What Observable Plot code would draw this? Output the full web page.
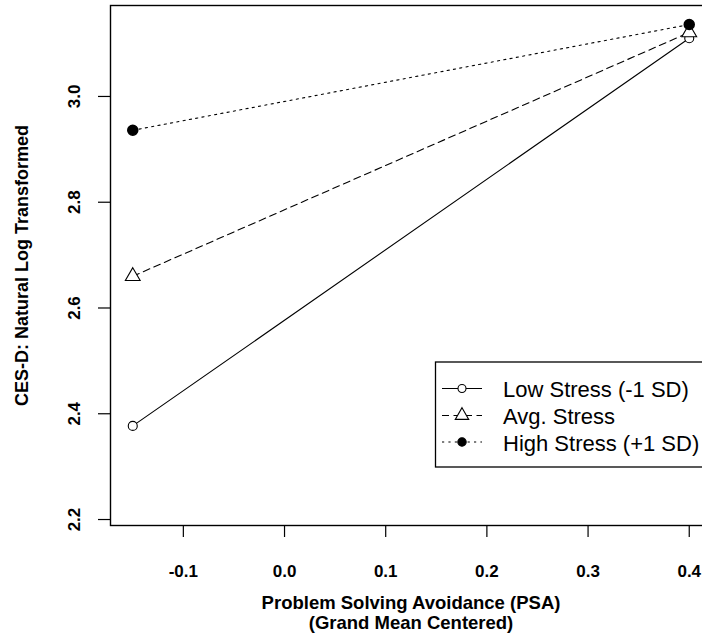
<!DOCTYPE html>
<html>
<head>
<meta charset="utf-8">
<script src="https://cdn.jsdelivr.net/npm/d3@7"></script>
<script src="https://cdn.jsdelivr.net/npm/@observablehq/plot@0.6"></script>
<style>
  html, body { margin: 0; padding: 0; background: white; overflow: hidden; width: 702px; height: 638px; }
  svg { max-width: none !important; }
</style>
</head>
<body>
<div id="chart"></div>
<script>
// ---- data ----
const psa = [-0.15, 0.4];
const lowStress = [2.377, 3.110];
const avgStress = [2.660, 3.121];
const highStress = [2.936, 3.136];
const seriesNames = ["Low Stress (-1 SD)", "Avg. Stress", "High Stress (+1 SD)"];
const xTicks = [-0.1, 0.0, 0.1, 0.2, 0.3, 0.4];
const yTicks = [2.2, 2.4, 2.6, 2.8, 3.0];
const xTitle = "Problem Solving Avoidance (PSA)\n(Grand Mean Centered)";
const yTitle = "CES-D: Natural Log Transformed";

const toRows = (vals, name) => psa.map((x, i) => ({ x, y: vals[i], series: name }));
const lowRows = toRows(lowStress, seriesNames[0]);
const avgRows = toRows(avgStress, seriesNames[1]);
const highRows = toRows(highStress, seriesNames[2]);

const font = "'Liberation Sans', Arial, Helvetica, sans-serif";
const fmt = d => d.toFixed(1);
const DASH = "7,4.5";
const DOT = "2.2,4.2";

const chart = Plot.plot({
  width: 712,
  height: 638,
  marginLeft: 110,
  marginRight: 1,
  marginTop: 5,
  marginBottom: 113,
  x: { domain: [-0.172, 0.422] },
  y: { domain: [2.1887, 3.172] },
  style: { fontFamily: font, background: "white", maxWidth: "none", color: "black" },
  marks: [
    Plot.axisX({ ticks: xTicks, tickSize: 12, tickPadding: 27, tickFormat: fmt,
                 fontSize: 17, fontWeight: "bold", label: null, strokeWidth: 1.2 }),
    Plot.axisY({ ticks: yTicks, tickSize: 12, tickFormat: () => "", label: null, strokeWidth: 1.2 }),
    Plot.text(yTicks, { y: d => d, text: fmt, frameAnchor: "left", textAnchor: "middle", dx: -35.5, rotate: -90,
                        fontSize: 17, fontWeight: "bold" }),
    Plot.text([yTitle], { frameAnchor: "left", textAnchor: "middle", dx: -88.5, rotate: -90,
                          fontSize: 18, fontWeight: "bold" }),
    Plot.text([xTitle], { frameAnchor: "bottom", textAnchor: "middle", dy: 70, lineAnchor: "top", lineHeight: 1.06,
                          fontSize: 18.5, fontWeight: "bold" }),
    Plot.frame({ stroke: "black", strokeWidth: 1.4 }),
    Plot.line(lowRows, { x: "x", y: "y", stroke: "black", strokeWidth: 1.1 }),
    Plot.dot(lowRows, { x: "x", y: "y", symbol: "circle", r: 4.5, fill: "white", stroke: "black", strokeWidth: 1.1 }),
    Plot.line(avgRows, { x: "x", y: "y", stroke: "black", strokeWidth: 1.1, strokeDasharray: DASH }),
    Plot.dot(avgRows, { x: "x", y: "y", symbol: "triangle", r: 5.5, fill: "white", stroke: "black", strokeWidth: 1.1 }),
    Plot.line(highRows, { x: "x", y: "y", stroke: "black", strokeWidth: 1.1, strokeDasharray: DOT }),
    Plot.dot(highRows, { x: "x", y: "y", symbol: "circle", r: 5, fill: "black", stroke: "black" })
  ]
});
document.getElementById("chart").appendChild(chart);

// ---- legend (layout in pixels, inside the plot area, like R's legend box) ----
const svg = d3.select(chart);
const lg = svg.append("g").attr("font-family", font).attr("text-anchor", "start");
lg.append("rect").attr("x", 435.5).attr("y", 362).attr("width", 290).attr("height", 105)
  .attr("fill", "white").attr("stroke", "black").attr("stroke-width", 1.3);
const rowsY = [388.5, 415.5, 442];
const dashes = [null, DASH, DOT];
const symbols = [
  { type: d3.symbolCircle, r: 4, fill: "white" },
  { type: d3.symbolTriangle, r: 5, fill: "white" },
  { type: d3.symbolCircle, r: 4.2, fill: "black" }
];
seriesNames.forEach((name, i) => {
  const y = rowsY[i];
  const ln = lg.append("line").attr("x1", 442).attr("x2", 482).attr("y1", y).attr("y2", y)
    .attr("stroke", "black").attr("stroke-width", 1.1);
  if (dashes[i]) ln.attr("stroke-dasharray", dashes[i]);
  const s = symbols[i];
  lg.append("path")
    .attr("d", d3.symbol(s.type, Math.PI * s.r * s.r)())
    .attr("transform", `translate(462,${y})`)
    .attr("fill", s.fill).attr("stroke", "black").attr("stroke-width", 1.1);
  lg.append("text").attr("x", 503).attr("y", y + 8.5).attr("font-size", 22)
    .attr("text-anchor", "start").attr("fill", "black").text(name);
});
</script>
</body>
</html>
